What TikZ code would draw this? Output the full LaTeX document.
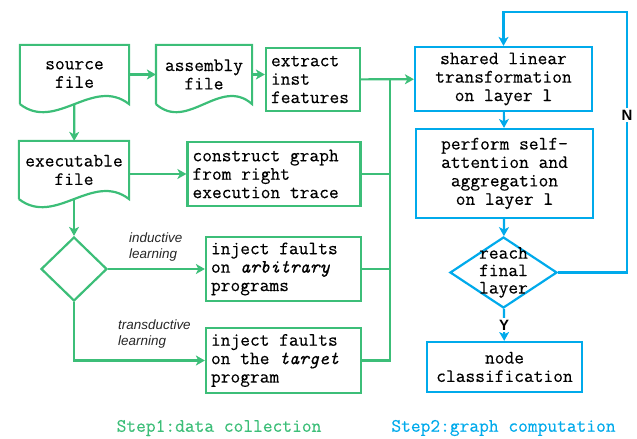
\documentclass[tikz,border=0pt]{standalone}
\usepackage{fontspec}
\newfontfamily\boxfont{Latin Modern Mono}[FakeBold=0.3]
\newfontfamily\notefont{Liberation Sans}
\usetikzlibrary{arrows.meta, calc, shapes.geometric}

\definecolor{stepgreen}{RGB}{60,190,120}
\definecolor{stepblue}{RGB}{0,170,235}

% outline of a "document" node: straight top and sides, wavy bottom
\newcommand{\docoutline}[1]{%
  \draw[gline] (#1.south west) -- (#1.north west) -- (#1.north east) -- (#1.south east)
    .. controls ($(#1.south east)!0.33!(#1.south west)+(0,-28)$)
    and ($(#1.south east)!0.67!(#1.south west)+(0,28)$) .. (#1.south west);}

\begin{document}
\begin{tikzpicture}[x=1bp, y=-1bp,
    box/.style={line width=2.2bp, inner sep=5bp, font=\fontsize{19}{18.5}\boxfont},
    gbox/.style={box, draw=stepgreen},
    bbox/.style={box, draw=stepblue, align=center},
    docbox/.style={box, align=center},
    gline/.style={draw=stepgreen, line width=2.2bp},
    bline/.style={draw=stepblue, line width=2.2bp},
    garr/.style={gline, -{Stealth[length=9bp, width=10bp, inset=2.5bp]}},
    barr/.style={bline, -{Stealth[length=9bp, width=10bp, inset=2.5bp]}},
    gdia/.style={diamond, draw=stepgreen, line width=2.2bp, inner sep=0pt},
    bdia/.style={diamond, draw=stepblue, line width=2.2bp, inner sep=0pt},
    note/.style={font=\fontsize{13.5}{16.5}\notefont\itshape, text=black!85, align=left, inner sep=0pt},
    yesno/.style={font=\fontsize{15}{15}\notefont\bfseries, fill=white, inner sep=1.5bp},
    steptitle/.style={font=\fontsize{19}{19}\boxfont}]

    \useasboundingbox (0,0) rectangle (637,439);

    % step 1: data collection
    \node[docbox, minimum width=107bp, minimum height=57bp] (source) at (74.5,74.5) {source\\file};
    \node[docbox, minimum width=94bp, minimum height=57bp] (assembly) at (204,74.5) {assembly\\file};
    \node[gbox, text width=84bp, align=flush left, minimum height=63bp] (extract) at (313,79.5) {extract\\inst\\features};
    \node[docbox, minimum width=108bp, minimum height=56bp] (executable) at (74,170) {executable\\file};
    \node[gbox, text width=163bp, align=flush left, minimum height=64bp] (construct) at (274,174) {construct graph\\from right\\execution trace};
    \node[gdia, minimum width=66bp, minimum height=64bp] (learn) at (74,269) {};
    \node[gbox, text width=145bp, align=flush left, minimum height=64bp] (arbitrary) at (283.5,269) {inject faults\\on \textit{arbitrary}\\programs};
    \node[gbox, text width=145bp, align=flush left, minimum height=65bp] (target) at (283.5,360.5) {inject faults\\on the \textit{target}\\program};
    \docoutline{source}
    \docoutline{assembly}
    \docoutline{executable}

    \node[note, anchor=west] (inductive) at (129,247) {inductive\\learning};
    \node[note, anchor=west] (transductive) at (118,334) {transductive\\learning};
    \coordinate (merge) at (390,79.5);

    \draw[garr] (source) -- (assembly);
    \draw[garr] (assembly) -- (assembly -| extract.west);
    \draw[garr] (source) -- (executable);
    \draw[garr] (construct -| executable.east) -- (construct);
    \draw[garr] (executable) -- (learn);
    \draw[garr] (learn) -- (arbitrary);
    \draw[garr] (learn) |- (target);
    \draw[gline] (target) -| (merge);
    \draw[gline] (arbitrary) -- (arbitrary -| merge);
    \draw[gline] (construct) -- (construct -| merge);

    % step 2: graph computation
    \node[bbox, minimum width=177bp, minimum height=64bp] (shared) at (503.5,79) {shared linear\\transformation\\on layer l};
    \node[bbox, minimum width=177bp, minimum height=89bp] (perform) at (504.5,173.5) {perform self-\\attention and\\aggregation\\on layer l};
    \node[bdia, minimum width=107bp, minimum height=71bp] (final) at (503.5,272.5) {};
    \node[font=\fontsize{19}{17.5}\boxfont, align=center, inner sep=0pt] (finaltext) at (final) {reach\\final\\layer};
    \node[bbox, minimum width=155bp, minimum height=50bp] (classify) at (504.5,367) {node\\classification};
    \coordinate (corner) at (627,12);

    \draw[garr] (extract) -- (shared);
    \draw[barr] (shared) -- (perform);
    \draw[barr] (perform) -- (final);
    \draw[barr] (final) -- node[yesno] {Y} (classify);
    \draw[barr] (final) -| (corner) -| (shared);
    \node[yesno] (no) at (627,115) {N};

    \node[steptitle, text=stepgreen] (step1) at (219,428) {Step1:data collection};
    \node[steptitle, text=stepblue] (step2) at (503.5,428) {Step2:graph computation};
\end{tikzpicture}
\end{document}
